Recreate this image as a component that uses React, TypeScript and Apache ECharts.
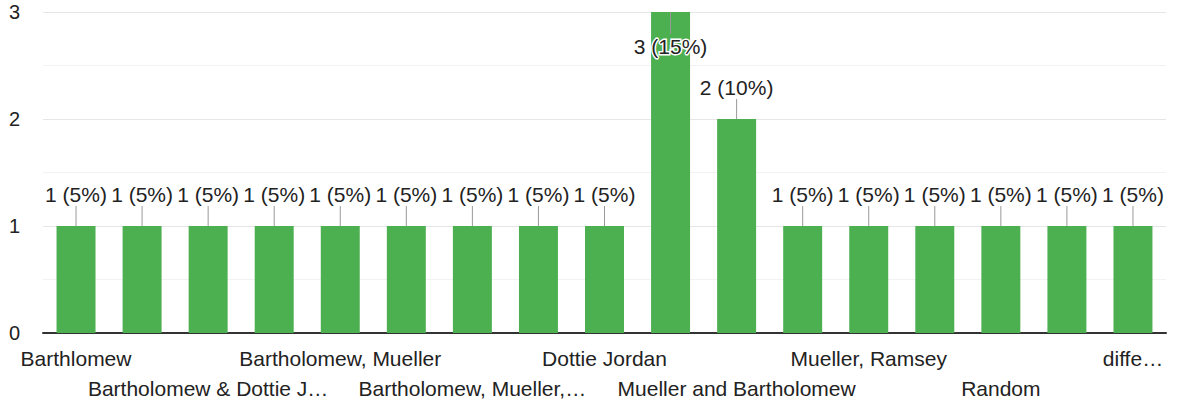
import React, { useEffect, useRef } from "react";
import * as echarts from "echarts";

const categories = [
  "Barthlomew",
  "Bartholomew",
  "Bartholomew & Dottie J…",
  "Bartholomew and Mueller",
  "Bartholomew, Mueller",
  "Bartholomew, Mueller, Jordan",
  "Bartholomew, Mueller,…",
  "Dottie",
  "Dottie Jordan",
  "Mueller",
  "Mueller and Bartholomew",
  "Mueller, Bartholomew",
  "Mueller, Ramsey",
  "Ramsey",
  "Random",
  "Unsure",
  "diffe…",
];
const values = [1, 1, 1, 1, 1, 1, 1, 1, 1, 3, 2, 1, 1, 1, 1, 1, 1];
const percents = [5, 5, 5, 5, 5, 5, 5, 5, 5, 15, 10, 5, 5, 5, 5, 5, 5];
const yTicks = [0, 1, 2, 3];

const FONT = "'Liberation Sans', Arial, sans-serif";

export default function App() {
  const ref = useRef<HTMLDivElement>(null);
  useEffect(() => {
    document.body.style.margin = "0";
    const chart = echarts.init(ref.current!, null, { renderer: "svg" });
    const yMax = yTicks[yTicks.length - 1];
    const labelBase = {
      showMinLabel: true,
      showMaxLabel: true,
      hideOverlap: false,
      color: "#222222",
      fontSize: 21,
      fontFamily: FONT,
    };
    chart.setOption({
      animation: false,
      grid: {
        left: 43,
        right: 12,
        top: 12,
        bottom: 69,
        containLabel: false,
        outerBoundsMode: "none",
      },
      xAxis: [
        {
          type: "category",
          data: categories,
          axisLine: { show: true, lineStyle: { color: "#333333", width: 2 } },
          axisTick: { show: false },
          splitLine: { show: false },
          axisLabel: {
            ...labelBase,
            margin: 15,
            interval: (i: number) => i % 4 === 0,
          },
        },
        {
          type: "category",
          data: categories,
          position: "bottom",
          axisLine: { show: false },
          axisTick: { show: false },
          splitLine: { show: false },
          axisLabel: {
            ...labelBase,
            margin: 45,
            interval: (i: number) => i % 4 === 2,
          },
        },
      ],
      yAxis: {
        type: "value",
        min: 0,
        max: yMax,
        interval: 1,
        axisLine: { show: false },
        axisTick: { show: false },
        axisLabel: {
          margin: 23,
          color: "#222222",
          fontSize: 20,
          fontFamily: FONT,
        },
        splitLine: { show: true, lineStyle: { color: "#e6e6e6", width: 1 } },
        minorTick: { show: false, splitNumber: 2 },
        minorSplitLine: { show: true, lineStyle: { color: "#f2f2f2", width: 1 } },
      },
      series: [
        {
          type: "bar",
          data: values,
          barWidth: "59%",
          itemStyle: { color: "#4caf50" },
          z: 2,
        },
        {
          type: "custom",
          data: values.map((v, i) => [i, v]),
          z: 5,
          renderItem: (params: any, api: any) => {
            const i = api.value(0);
            const v = api.value(1);
            const p = api.coord([i, v]);
            const text = `${v} (${percents[i]}%)`;
            const inside = v >= yMax;
            if (inside) {
              return {
                type: "group",
                children: [
                  {
                    type: "line",
                    shape: { x1: p[0], y1: p[1], x2: p[0], y2: p[1] + 22 },
                    style: { stroke: "#999999", lineWidth: 1 },
                  },
                  {
                    type: "text",
                    x: p[0],
                    y: p[1] + 34,
                    style: {
                      text,
                      fill: "#222222",
                      font: `21px ${FONT}`,
                      align: "center",
                      verticalAlign: "middle",
                      stroke: "#ffffff",
                      lineWidth: 3,
                    },
                  },
                ],
              };
            }
            return {
              type: "group",
              children: [
                {
                  type: "line",
                  shape: { x1: p[0], y1: p[1], x2: p[0], y2: p[1] - 20 },
                  style: { stroke: "#999999", lineWidth: 1 },
                },
                {
                  type: "text",
                  x: p[0],
                  y: p[1] - 32,
                  style: {
                    text,
                    fill: "#222222",
                    font: `21px ${FONT}`,
                    align: "center",
                    verticalAlign: "middle",
                  },
                },
              ],
            };
          },
        },
      ],
    });
    return () => chart.dispose();
  }, []);
  return <div ref={ref} style={{ width: 1178, height: 402 }} />;
}
